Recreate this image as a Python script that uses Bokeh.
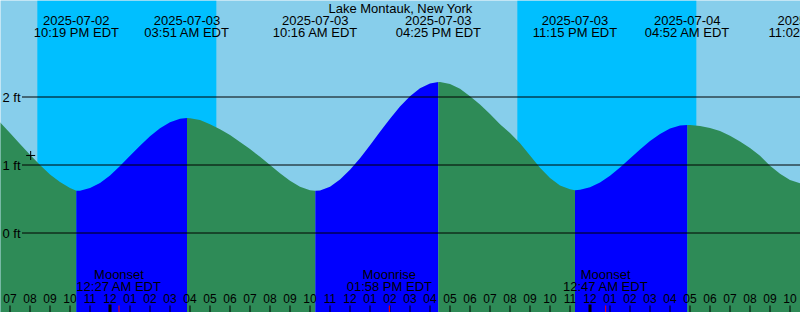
from datetime import datetime
from bokeh.plotting import figure
from bokeh.models import Range1d
from bokeh.core.properties import value
from bokeh.embed import file_html
from bokeh.resources import INLINE

# ---------------- data ----------------
station = "Lake Montauk, New York"
tz_label = "EDT"

tide_event_times = ["2025-07-02 22:19", "2025-07-03 03:51", "2025-07-03 10:16",
                    "2025-07-03 16:25", "2025-07-03 23:15", "2025-07-04 04:52",
                    "2025-07-04 11:02"]
tide_event_kinds = ["Low", "High", "Low", "High", "Low", "High", "Low"]
tide_event_ft = [0.62, 1.69, 0.62, 2.22, 0.63, 1.59, 0.66]

# water level every 30 minutes
curve_start = "2025-07-02 18:30"
curve_step_minutes = 30
curve_ft = [
    1.63, 1.47, 1.31, 1.15, 1.00, 0.86, 0.75, 0.66,
    0.623, 0.66, 0.737, 0.847, 0.985, 1.135, 1.283, 1.421, 1.541, 1.629, 1.680,
    1.688, 1.663, 1.60, 1.525, 1.44, 1.34, 1.235, 1.12, 1.00, 0.88, 0.77, 0.68, 0.63,
    0.626, 0.68, 0.785, 0.93, 1.10, 1.29, 1.49, 1.68, 1.86, 2.01, 2.13, 2.20,
    2.219, 2.19, 2.12, 2.01, 1.89, 1.75, 1.60, 1.47, 1.32, 1.14, 0.96, 0.81, 0.70, 0.645,
    0.635, 0.672, 0.743, 0.842, 0.963, 1.095, 1.228, 1.352, 1.457, 1.535, 1.58,
    1.589, 1.575, 1.545, 1.50, 1.43, 1.345, 1.25, 1.135, 0.99, 0.87, 0.78, 0.73, 0.70,
]

sunset_times = ["2025-07-02 20:22", "2025-07-03 20:22"]
sunrise_times = ["2025-07-03 05:19", "2025-07-04 05:19"]

moon_event_times = ["2025-07-03 00:27", "2025-07-03 13:58", "2025-07-04 00:47"]
moon_event_names = ["Moonset", "Moonrise", "Moonset"]

now_time = "2025-07-02 20:02"
now_ft = 1.14

level_lines_ft = [0, 1, 2]
first_hour_tick = "2025-07-02 19:00"
hour_tick_count = 40

# ---------------- layout ----------------
W, H = 800, 312
PX_PER_HOUR = 20.0
PX_PER_FT = 68.0
REF = datetime(2025, 7, 2)
TXT_UP = 4.0  # baseline correction for the SVG text renderer


def parse(s):
    return datetime.strptime(s, "%Y-%m-%d %H:%M")


def hours(s):
    return (parse(s) - REF).total_seconds() / 3600.0


T0 = hours(first_hour_tick) - 9.5 / PX_PER_HOUR
T1 = T0 + W / PX_PER_HOUR
Y_TOP = 2 + 96.5 / PX_PER_FT
Y_BOT = Y_TOP - H / PX_PER_FT


def xpx(px):
    return T0 + px / PX_PER_HOUR


def ypx(py):
    return Y_TOP - py / PX_PER_FT


def ytxt(py):
    return ypx(py - TXT_UP)


FONT = value("Liberation Sans")
DAY = "#87CEEB"
NIGHT = "#00BFFF"
FLOOD = "#0000FF"
EBB = "#2E8B57"

p = figure(width=W, height=H, x_range=Range1d(T0, T1), y_range=Range1d(Y_BOT, Y_TOP),
           output_backend="svg", toolbar_location=None, min_border=0,
           x_axis_location=None, y_axis_location=None,
           background_fill_color=DAY, border_fill_color=DAY)
p.grid.visible = False
p.outline_line_color = None

# night bands
p.quad(left=[hours(s) for s in sunset_times], right=[hours(s) for s in sunrise_times],
       top=Y_TOP, bottom=Y_BOT, fill_color=NIGHT, line_color=None)

# water
sample_t = [hours(curve_start) + i * curve_step_minutes / 60.0 for i in range(len(curve_ft))]
ev_t = [hours(s) for s in tide_event_times]
pts = sorted(zip(sample_t + ev_t, curve_ft + tide_event_ft))
bounds = [sample_t[0]] + ev_t
for i in range(len(ev_t)):
    a, b = bounds[i], bounds[i + 1]
    seg = [(t, h) for t, h in pts if a <= t <= b]
    if len(seg) < 2:
        continue
    color = FLOOD if tide_event_kinds[i] == "High" else EBB
    p.varea(x=[s[0] for s in seg], y1=[Y_BOT] * len(seg), y2=[s[1] for s in seg],
            fill_color=color)

# level lines and labels
p.segment(x0=[xpx(21.5)] * len(level_lines_ft), x1=[T1] * len(level_lines_ft),
          y0=level_lines_ft, y1=level_lines_ft, line_color="black", line_width=1)
p.text(x=[xpx(2)] * len(level_lines_ft),
       y=[lv - (4.3 - TXT_UP) / PX_PER_FT for lv in level_lines_ft],
       text=[f"{lv} ft" for lv in level_lines_ft], text_font=FONT, text_font_size="13px",
       text_align="left", text_baseline="alphabetic", text_color="black")

# title
p.text(x=[xpx(W / 2)], y=[ytxt(12)], text=[station], text_font=FONT, text_font_size="13px",
       text_align="center", text_baseline="alphabetic", text_color="black")

# tide event labels
p.text(x=ev_t, y=[ytxt(24.3)] * len(ev_t),
       text=[parse(s).strftime("%Y-%m-%d") for s in tide_event_times],
       text_font=FONT, text_font_size="13px", text_align="center",
       text_baseline="alphabetic", text_color="black")
p.text(x=ev_t, y=[ytxt(36)] * len(ev_t),
       text=[parse(s).strftime("%I:%M %p ") + tz_label for s in tide_event_times],
       text_font=FONT, text_font_size="13px", text_align="center",
       text_baseline="alphabetic", text_color="black")

# hour ticks and labels
h0 = hours(first_hour_tick)
tick_t = [h0 + k for k in range(hour_tick_count)]
tick_lbl = ["%02d" % ((int(round(t)) % 12) or 12) for t in tick_t]
normal_t = [t for t in tick_t if int(round(t)) % 24 != 0]
midnight_t = [t for t in tick_t if int(round(t)) % 24 == 0]
p.segment(x0=normal_t, x1=normal_t, y0=[ypx(305)] * len(normal_t), y1=[Y_BOT] * len(normal_t),
          line_color="black", line_width=1)
p.segment(x0=midnight_t, x1=midnight_t, y0=[ypx(304)] * len(midnight_t),
          y1=[Y_BOT] * len(midnight_t), line_color="black", line_width=3)
p.text(x=tick_t, y=[ytxt(301.5)] * len(tick_t), text=tick_lbl, text_font=FONT,
       text_font_size="12px", text_align="center", text_baseline="alphabetic",
       text_color="black")

# moon events
moon_t = [hours(s) for s in moon_event_times]
p.segment(x0=moon_t, x1=moon_t, y0=[ypx(305)] * len(moon_t), y1=[Y_BOT] * len(moon_t),
          line_color="red", line_width=1)
p.text(x=moon_t, y=[ytxt(277.5)] * len(moon_t), text=moon_event_names, text_font=FONT,
       text_font_size="13px", text_align="center", text_baseline="alphabetic",
       text_color="black")
p.text(x=moon_t, y=[ytxt(289.5)] * len(moon_t),
       text=[parse(s).strftime("%I:%M %p ") + tz_label for s in moon_event_times],
       text_font=FONT, text_font_size="13px", text_align="center",
       text_baseline="alphabetic", text_color="black")

# current-time mark
p.scatter(x=[hours(now_time)], y=[now_ft], marker="cross", size=9,
          line_color="black", line_width=1)

open("out.html", "w").write(file_html(p, INLINE))
